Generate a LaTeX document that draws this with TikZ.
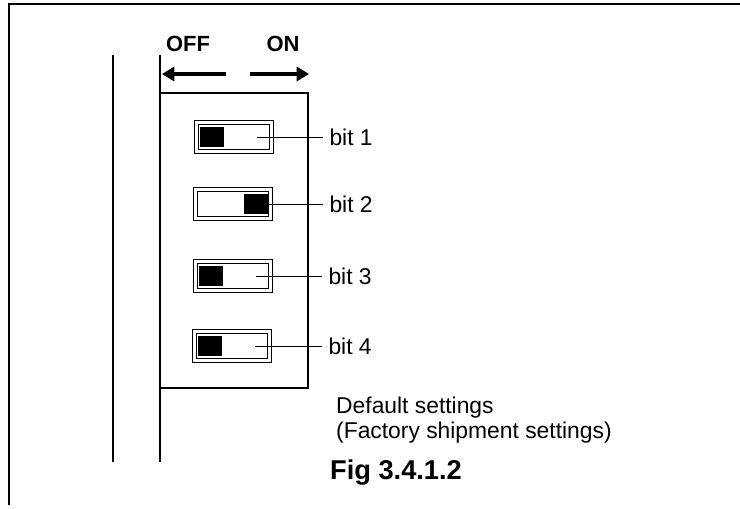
\documentclass[tikz,border=0pt]{standalone}
\usepackage{fontspec}
\setmainfont{Liberation Sans}
\usetikzlibrary{arrows.meta}
\tikzset{
  switchbox/.style={rectangle, draw, line width=0.6pt, double, double distance=1.2pt, minimum width=1.5cm, minimum height=0.58cm, inner sep=0pt},
  knob/.style={rectangle, fill=black, minimum width=0.48cm, minimum height=0.4cm, inner sep=0pt},
  bitlabel/.style={anchor=west, font=\fontsize{13}{15}\selectfont, inner sep=3.5pt},
  lead/.style={line width=0.5pt},
  setarrow/.style={line width=1.8pt, -{Triangle[length=7pt, width=8pt]}}
}
\begin{document}
\begin{tikzpicture}[x=0.02cm, y=-0.02cm]
  \useasboundingbox (0,0) rectangle (740,508);
  % Frame
  \draw[line width=0.8pt] (740,4) -- (9,4) -- (9,505);
  \draw[line width=0.9pt] (113,55) -- (113,462);
  \draw[line width=0.9pt] (160,55) -- (160,462);
  % Header
  \node (off) [font=\bfseries\fontsize{12.5}{14}\selectfont] at (188,44) {OFF};
  \node (on) [font=\bfseries\fontsize{12.5}{14}\selectfont] at (283,44) {ON};
  \coordinate (offs) at (226,74);
  \coordinate (offe) at (162,74);
  \coordinate (ons) at (250,74);
  \coordinate (one) at (309,74);
  \draw[setarrow] (offs) -- (offe);
  \draw[setarrow] (ons) -- (one);
  % Nodes
  \node (dip) [rectangle, draw, line width=0.8pt, minimum width=2.96cm, minimum height=5.9cm] at (234,240.5) {};
  \node (sw1) [switchbox] at (234,137) {};
  \node (sw2) [switchbox] at (233,204) {};
  \node (sw3) [switchbox] at (233,276) {};
  \node (sw4) [switchbox] at (232,346) {};
  \node (k1) [knob] at (212,137) {};
  \node (k2) [knob] at (256,204) {};
  \node (k3) [knob] at (211,276) {};
  \node (k4) [knob] at (210,346) {};
  \node (b1) [bitlabel] at (323,137) {bit 1};
  \node (b2) [bitlabel] at (323,204) {bit 2};
  \node (b3) [bitlabel] at (322,276) {bit 3};
  \node (b4) [bitlabel] at (322,346) {bit 4};
  % Lead lines
  \draw[lead] ([xshift=-0.3cm]sw1.east) -- (b1.west);
  \draw[lead] (k2.east) -- (b2.west);
  \draw[lead] ([xshift=-0.3cm]sw3.east) -- (b3.west);
  \draw[lead] ([xshift=-0.3cm]sw4.east) -- (b4.west);
  % Notes
  \node (note) [anchor=west, align=left, font=\fontsize{13}{13.8}\selectfont] at (330,420) {Default settings\\(Factory shipment settings)};
  \node (fig) [font=\bfseries\fontsize{15.5}{18}\selectfont] at (396,473) {Fig 3.4.1.2};
\end{tikzpicture}
\end{document}
